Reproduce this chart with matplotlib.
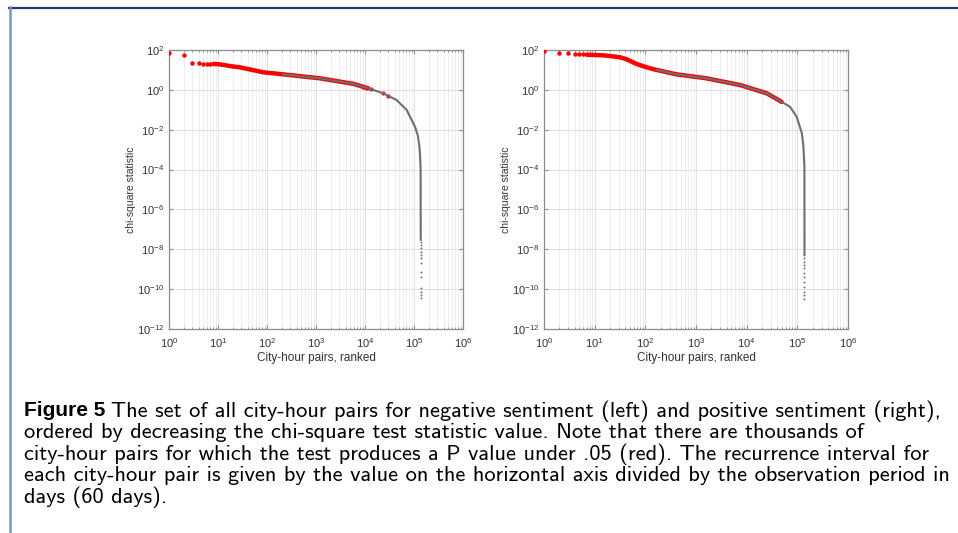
import matplotlib
matplotlib.use("Agg")
import matplotlib.pyplot as plt
from matplotlib.lines import Line2D
from matplotlib.ticker import LogLocator, NullFormatter, FixedLocator, LogFormatterSciNotation

plt.rcParams['font.family'] = ['Liberation Sans', 'DejaVu Sans']
plt.rcParams['mathtext.fontset'] = 'custom'
plt.rcParams['mathtext.rm'] = 'Liberation Sans'
plt.rcParams['mathtext.default'] = 'regular'

# negative sentiment (left panel)
neg_top_rank = [1, 2, 3, 4, 5, 6, 7]
neg_top_chi = [68, 54, 23, 22, 21, 20.5, 20]
neg_rank = [8, 11, 20, 28, 50, 84, 215, 1200, 5800, 11700, 23600, 44000, 71000,
            105000, 120000, 129000, 133000, 136500, 137200]
neg_chi = [20, 19, 15, 13.5, 10, 7.6, 6.0, 3.8, 2.0, 1.2, 0.67, 0.31, 0.098,
           0.014, 0.005, 1.4e-3, 5e-4, 1e-4, 3e-8]
neg_red_last = 11700
neg_gray_first = 215
neg_extra_red_rank = [9000, 10500, 13000, 23600, 30000]
neg_extra_red_chi = [1.35, 1.25, 1.1, 0.67, 0.49]
neg_tail_chi = [2.4e-8, 1.65e-8, 1.1e-8, 7.6e-9, 5.2e-9, 3.5e-9, 2e-9, 7.5e-10,
                4.2e-10, 1.1e-10, 7.5e-11, 5.1e-11, 3.5e-11]
neg_tail_rank = 137300

# positive sentiment (right panel)
pos_top_rank = [1, 2, 3, 4, 5, 6]
pos_top_chi = [89, 70, 68, 65, 65, 60]
pos_rank = [7, 15, 20, 32, 43, 67, 106, 166, 415, 1600, 7400, 25000, 49000,
            72000, 97000, 123000, 132000, 138000, 138400]
pos_chi = [58, 54, 50, 43, 34, 20, 13.5, 10, 6.0, 3.8, 1.75, 0.67, 0.25,
           0.14, 0.045, 6.6e-3, 1.4e-3, 1.4e-4, 5e-9]
pos_red_last = 49000
pos_gray_first = 120
pos_tail_chi = [3.5e-9, 2.4e-9, 1.6e-9, 1.1e-9, 6.3e-10, 4.2e-10, 2.3e-10,
                1.3e-10, 7.4e-11, 5.1e-11, 3.1e-11]
pos_tail_rank = 138400

caption_bold = "Figure 5"
caption_lines = [
    "The set of all city-hour pairs for negative sentiment (left) and positive sentiment (right),",
    "ordered by decreasing the chi-square test statistic value. Note that there are thousands of",
    "city-hour pairs for which the test produces a P value under .05 (red). The recurrence interval for",
    "each city-hour pair is given by the value on the horizontal axis divided by the observation period in",
    "days (60 days).",
]

W, H = 958, 533
RED = '#ff0000'
GRAY = '#6e6e6e'


def draw_panel(ax, top_rank, top_chi, rank, chi, red_last, gray_first,
               tail_chi, tail_rank, extra_rank=None, extra_chi=None):
    red_r = [r for r in rank if r <= red_last]
    red_c = [c for r, c in zip(rank, chi) if r <= red_last]
    gray_r = [r for r in rank if r >= gray_first]
    gray_c = [c for r, c in zip(rank, chi) if r >= gray_first]

    ax.plot(red_r, red_c, color=RED, lw=3.2, solid_capstyle='round', zorder=3)
    ax.plot(top_rank, top_chi, 'o', color=RED, ms=3.2, mew=0, zorder=4)
    if extra_rank:
        ax.plot(extra_rank, extra_chi, 'o', color=RED, ms=3.0, mew=0, zorder=3)
    ax.plot(gray_r, gray_c, color=GRAY, lw=1.5, zorder=5)
    ax.plot([tail_rank] * len(tail_chi), tail_chi, 'o', color=GRAY, ms=1.4,
            mew=0, zorder=5)

    ax.set_xscale('log')
    ax.set_yscale('log')
    ax.set_xlim(1, 1e6)
    ax.set_ylim(1e-12, 1e2)
    ax.xaxis.set_major_locator(LogLocator(base=10, numticks=10))
    ax.xaxis.set_minor_locator(LogLocator(base=10, subs=range(2, 10), numticks=100))
    ax.xaxis.set_minor_formatter(NullFormatter())
    ax.yaxis.set_major_locator(FixedLocator([10.0 ** k for k in range(-12, 3, 2)]))
    ax.yaxis.set_major_formatter(LogFormatterSciNotation())
    ax.yaxis.set_minor_locator(FixedLocator([]))

    ax.grid(True, which='major', color='#dcdcdc', lw=0.6, zorder=0)
    ax.grid(True, which='minor', axis='x', color='#ebebeb', lw=0.6, zorder=0)
    ax.set_axisbelow(True)
    for s in ax.spines.values():
        s.set_color('#8c8c8c')
        s.set_linewidth(0.9)
    ax.tick_params(which='both', direction='in', top=True, right=True,
                   color='#8c8c8c', labelsize=8, labelcolor='#333333')
    ax.tick_params(which='major', length=3)
    ax.tick_params(which='minor', length=1.6)
    ax.tick_params(axis='x', which='major', pad=5)
    ax.tick_params(axis='y', which='major', pad=3.5)

    ax.set_ylabel('chi-square statistic', fontsize=7.5, color='#333333')
    ax.set_xlabel('City-hour pairs, ranked', fontsize=8.5, color='#333333')


fig = plt.figure(figsize=(W / 100, H / 100), dpi=100)
ax1 = fig.add_axes([169 / W, 1 - 329 / H, 294 / W, 279 / H])
ax2 = fig.add_axes([544 / W, 1 - 329 / H, 304 / W, 279 / H])

draw_panel(ax1, neg_top_rank, neg_top_chi, neg_rank, neg_chi, neg_red_last,
           neg_gray_first, neg_tail_chi, neg_tail_rank,
           neg_extra_red_rank, neg_extra_red_chi)
draw_panel(ax2, pos_top_rank, pos_top_chi, pos_rank, pos_chi, pos_red_last,
           pos_gray_first, pos_tail_chi, pos_tail_rank)

ax1.yaxis.set_label_coords((136 - 169) / 294, 0.5)
ax2.yaxis.set_label_coords((511 - 544) / 304, 0.5)
ax1.xaxis.set_label_coords(0.5, -(352 - 329) / 279)
ax2.xaxis.set_label_coords(0.5, -(352 - 329) / 279)

# page frame
fig.add_artist(Line2D([9 / W, 1], [1 - 7.5 / H] * 2, transform=fig.transFigure,
                      color='#1f3f6a', lw=1.6))
fig.add_artist(Line2D([10 / W] * 2, [0, 1 - 7 / H], transform=fig.transFigure,
                      color='#7b96bd', lw=1.8))

# caption, sized so that the longest line spans the same width
cap_font = 'cmss10'
fig.canvas.draw()
rend = fig.canvas.get_renderer()
probe = fig.text(0, 0, caption_lines[3], fontsize=13, family=cap_font)
cap_size = 13 * 926 / probe.get_window_extent(rend).width
probe.remove()

line_y = [411, 432.5, 454, 475.5, 497]
bold = fig.text(24 / W, 1 - line_y[0] / H, caption_bold, fontsize=cap_size * 0.93,
                family='Liberation Sans', weight='bold', va='center')
bw = bold.get_window_extent(rend).width
fig.text((24 + bw + 6) / W, 1 - line_y[0] / H, caption_lines[0],
         fontsize=cap_size, family=cap_font, va='center')
for txt, y in zip(caption_lines[1:], line_y[1:]):
    fig.text(24 / W, 1 - y / H, txt, fontsize=cap_size, family=cap_font, va='center')

fig.savefig('out.png', dpi=100)
